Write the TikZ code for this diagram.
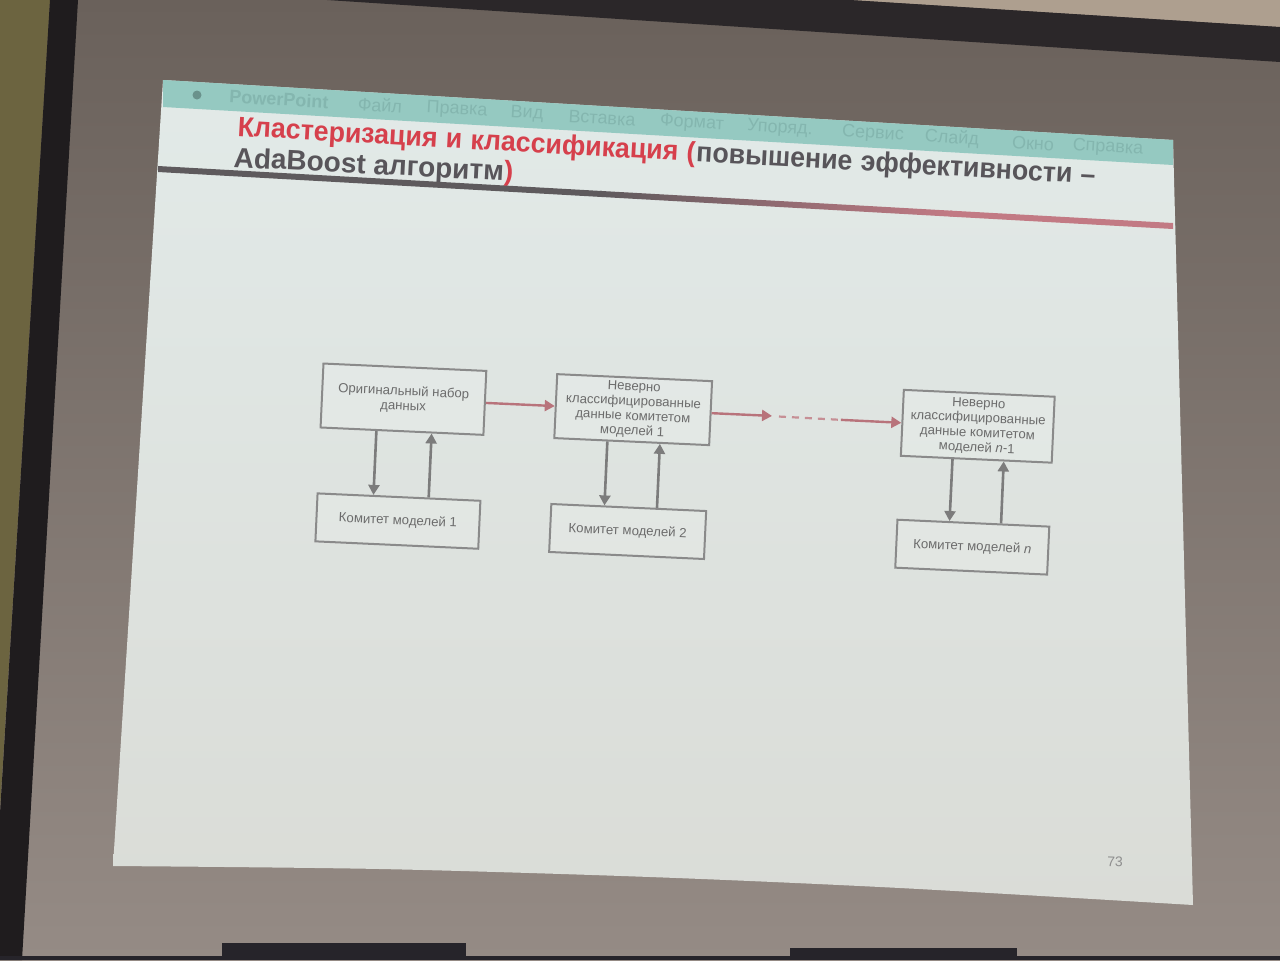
\documentclass[tikz,border=0pt]{standalone}
\usepackage{fontspec}
\setmainfont{Liberation Sans}
\usetikzlibrary{arrows.meta,calc}

% room and screen
\definecolor{wallolive}{HTML}{6C6440}
\definecolor{frameblack}{HTML}{1F1C1E}
\definecolor{screentop}{HTML}{6A615B}
\definecolor{screenbot}{HTML}{958B85}
\definecolor{housing}{HTML}{2B2729}
\definecolor{ceiling}{HTML}{AE9F8F}
\definecolor{monitor}{HTML}{26242A}
% slide
\definecolor{slidetop}{HTML}{E2EAE8}
\definecolor{slidemid}{HTML}{EEDEE1}
\definecolor{slidebot}{HTML}{DADCD7}
\definecolor{menubar}{HTML}{95C9C1}
\definecolor{menutext}{HTML}{84B6AF}
\definecolor{titlered}{HTML}{D6404C}
\definecolor{titlegray}{HTML}{58555A}
\definecolor{rulegray}{HTML}{5E5A5D}
\definecolor{rulerose}{HTML}{C27A84}
\definecolor{boxline}{HTML}{8A8A8A}
\definecolor{boxtext}{HTML}{6C6C6C}
\definecolor{arrowgray}{HTML}{7C7C7C}
\definecolor{linkrose}{HTML}{B8737B}
\definecolor{pagenum}{HTML}{8E8E8E}

\tikzset{
  menuitem/.style={text=menutext, rotate=-3.35, inner sep=0pt,
    font=\fontsize{9}{9}\selectfont},
  titleline/.style={anchor=base west, rotate=-3.2, inner sep=0pt,
    font=\bfseries\fontsize{14}{16}\selectfont},
  box/.style={draw=boxline, line width=1pt, fill=white, fill opacity=0.15,
    text opacity=1, text=boxtext, align=center, inner sep=1pt,
    font=\fontsize{6.6}{7.4}\selectfont},
  updown/.style={draw=arrowgray, line width=1.3pt,
    -{Triangle[width=5.5pt,length=5pt]}},
  link/.style={draw=linkrose, line width=1.2pt,
    -{Triangle[width=5.5pt,length=5pt]}},
  linkdash/.style={draw=linkrose!80!white, line width=1.1pt,
    dash pattern=on 3.5pt off 3pt},
}
% first title line is set slightly narrower; #1 colour, #2 text
\newcommand{\titleword}[2]{\scalebox{0.955}[1]{\textcolor{#1}{#2}}}
\newcommand{\wsp}{\hspace{0.278em}}

\begin{document}
\begin{tikzpicture}[x=0.5pt, y=-0.5pt]
\useasboundingbox (0,0) rectangle (1280,960);
\clip (0,0) rectangle (1280,960);

% screen surface, wall and frame
\shade[top color=screentop, bottom color=screenbot] (0,0) rectangle (1280,960);
\fill[ceiling] (850,0) -- (1280,0) -- (1280,27) -- cycle;
\fill[housing] (327,0) -- (850,0) -- (1280,27) -- (1280,62) -- cycle;
\fill[wallolive] (0,0) -- (50,0) -- (0,810) -- cycle;
\fill[frameblack] (50,0) -- (78,0) -- (22,960) -- (-9,960) -- cycle;

% projected slide
\shade[top color=slidetop, middle color=slidemid, bottom color=slidebot]
  (163,80) -- (1173,140) --
  plot[smooth] coordinates {(1193,905) (900,888) (650,877) (380,869) (113,866)}
  -- cycle;

% menu bar
\fill[menubar] (163,80) -- (1173,140) -- (1173,165) -- (163,107) -- cycle;
\fill[menutext!80!black] (197,95) circle (4.5);
\node[menuitem, font=\bfseries\fontsize{9}{9}\selectfont] (m1) at (279,99.3) {PowerPoint};
\node[menuitem] (m2)  at (380,105.2)  {Файл};
\node[menuitem] (m3)  at (457,109.7)  {Правка};
\node[menuitem] (m4)  at (527,113.8)  {Вид};
\node[menuitem] (m5)  at (602,118.1)  {Вставка};
\node[menuitem] (m6)  at (692,123.4)  {Формат};
\node[menuitem] (m7)  at (780,128.5)  {Упоряд.};
\node[menuitem] (m8)  at (873,134.0)  {Сервис};
\node[menuitem] (m9)  at (952,138.6)  {Слайд};
\node[menuitem] (m10) at (1033,143.3) {Окно};
\node[menuitem] (m11) at (1108,147.7) {Справка};

% title, first line word by word along one baseline
\node[titleline] (w1) at (237,136) {\titleword{titlered}{Кластеризация}};
\node[titleline] (w2) at (w1.base east) {\titleword{titlered}{\wsp и}};
\node[titleline] (w3) at (w2.base east) {\titleword{titlered}{\wsp классификация}};
\node[titleline] (w4) at (w3.base east) {\titleword{titlered}{\wsp (}};
\node[titleline] (w5) at (w4.base east) {\titleword{titlegray}{повышение}};
\node[titleline] (w6) at (w5.base east) {\titleword{titlegray}{\wsp эффективности}};
\node[titleline] (w7) at (w6.base east) {\titleword{titlegray}{\wsp –}};
\node[titleline, rotate=0.3] (title2) at (233,167)
  {\textcolor{titlegray}{AdaBoost алгоритм}\textcolor{titlered}{)}};

% title rule, grey turning rose
\fill[rulegray] (158,166) -- (602,191) -- (602,197) -- (158,172) -- cycle;
\shade[left color=rulegray, right color=rulerose]
  (600,190.9) -- (952,210.7) -- (952,216.7) -- (600,196.9) -- cycle;
\fill[rulerose] (950,210.6) -- (1173,223) -- (1173,229) -- (950,216.6) -- cycle;

% page number
\node[text=pagenum, rotate=-2, font=\fontsize{7}{7}\selectfont] (pg) at (1115,862) {73};

% AdaBoost diagram
\begin{scope}[rotate around={-2.6:(640,480)}, transform shape]
  \node[box, minimum width=81.5pt, minimum height=32pt] (t1) at (400,410)
    {Оригинальный набор\\данных};
  \node[box, minimum width=77.5pt, minimum height=32pt] (t2) at (630,410)
    {Неверно\\классифицированные\\данные комитетом\\моделей 1};
  \node[box, minimum width=75.5pt, minimum height=33pt] (t3) at (975,411)
    {Неверно\\классифицированные\\данные комитетом\\моделей \textit{n}-1};
  \node[box, minimum width=81.5pt, minimum height=24pt] (b1) at (400,532)
    {Комитет моделей 1};
  \node[box, minimum width=77.5pt, minimum height=24pt] (b2) at (630,532)
    {Комитет моделей 2};
  \node[box, minimum width=76pt, minimum height=24pt] (b3) at (975,532)
    {Комитет моделей \textit{n}};

  \coordinate (g1)  at (769,410);
  \coordinate (g1b) at (776,410.3);
  \coordinate (g2)  at (838,410.8);

  \draw[link] (t1.east) -- (t2.west);
  \draw[link] (t2.east) -- (g1);
  \draw[linkdash] (g1b) -- (g2);
  \draw[link] (g2) -- (t3.west);

  \foreach \a/\b in {t1/b1, t2/b2, t3/b3} {
    \draw[updown] ($(\a.south west)!0.345!(\a.south east)$)
      -- ($(\b.north west)!0.345!(\b.north east)$);
    \draw[updown] ($(\b.north west)!0.68!(\b.north east)$)
      -- ($(\a.south west)!0.68!(\a.south east)$);
  }
\end{scope}

% monitors in front of the screen
\fill[monitor] (222,943) rectangle (466,960);
\fill[monitor] (790,948) rectangle (1017,960);
\fill[monitor] (0,956) rectangle (1280,960);
\end{tikzpicture}
\end{document}
